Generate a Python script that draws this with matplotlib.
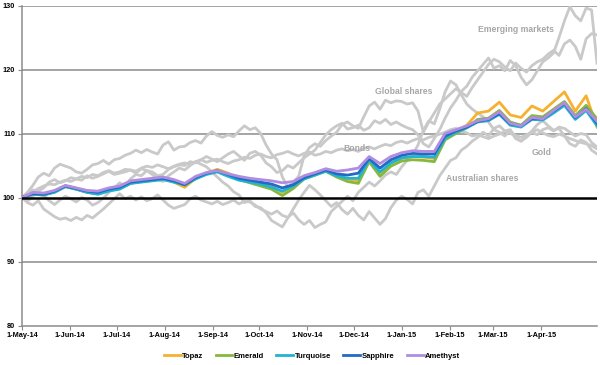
import matplotlib
matplotlib.use("Agg")
import matplotlib.pyplot as plt
import pandas as pd

plt.rcParams['font.family'] = ['Liberation Sans', 'DejaVu Sans']
plt.rcParams['font.weight'] = 'bold'

# weekly fund values (index, 1-May-14 = 100)
topaz = [100, 100.5, 100.4, 100.9, 101.8, 101.4, 100.9, 100.6, 101.2, 101.6,
         102.4, 102.6, 102.8, 103.0, 102.4, 101.6, 103.0, 103.8, 104.4, 103.8,
         103.0, 102.5, 102.1, 101.8, 100.8, 101.8, 103.0, 103.6, 104.3, 103.6,
         102.9, 102.6, 105.8, 103.6, 105.4, 106.1, 106.4, 106.3, 106.1, 109.2,
         110.3, 111.3, 113.2, 113.5, 114.9, 112.9, 112.5, 114.3, 113.5, 115.0,
         116.5, 113.5, 115.9, 111.0]
emerald = [100, 100.5, 100.4, 100.9, 101.7, 101.3, 100.8, 100.6, 101.1, 101.4,
           102.2, 102.5, 102.7, 102.9, 102.5, 101.9, 103.0, 103.7, 104.2, 103.5,
           102.8, 102.3, 101.8, 101.3, 100.3, 101.4, 102.9, 103.5, 104.1, 103.2,
           102.5, 102.2, 105.6, 103.3, 104.9, 105.7, 105.9, 105.8, 105.6, 109.0,
           110.0, 110.9, 112.2, 112.4, 113.6, 111.8, 111.3, 112.8, 112.6, 113.8,
           115.0, 112.8, 114.4, 112.3]
turquoise = [100, 100.5, 100.4, 100.8, 101.7, 101.3, 100.8, 100.5, 101.0, 101.3,
             102.2, 102.4, 102.6, 102.8, 102.4, 102.0, 102.9, 103.6, 104.0, 103.3,
             102.7, 102.4, 102.1, 101.6, 101.0, 101.8, 102.9, 103.5, 104.1, 103.4,
             103.0, 103.0, 105.9, 104.0, 105.4, 106.2, 106.4, 106.4, 106.3, 109.3,
             110.2, 110.9, 111.8, 112.0, 113.0, 111.3, 111.0, 112.2, 112.1, 113.2,
             114.4, 112.2, 113.6, 111.2]
sapphire = [100, 100.6, 100.5, 101.0, 101.8, 101.4, 101.0, 100.8, 101.3, 101.6,
            102.4, 102.6, 102.8, 103.0, 102.6, 102.0, 103.1, 103.8, 104.2, 103.6,
            103.0, 102.7, 102.4, 102.1, 101.5, 102.0, 103.1, 103.7, 104.3, 103.7,
            103.5, 103.8, 106.1, 104.6, 105.9, 106.6, 106.9, 106.8, 106.8, 109.6,
            110.4, 111.0, 111.9, 112.2, 113.1, 111.5, 111.2, 112.3, 112.3, 113.5,
            114.7, 112.5, 113.9, 111.6]
amethyst = [100, 100.8, 100.7, 101.1, 101.9, 101.5, 101.1, 101.0, 101.5, 101.8,
            102.6, 102.8, 103.0, 103.2, 102.8, 102.2, 103.3, 103.9, 104.2, 103.7,
            103.3, 103.0, 102.8, 102.6, 102.3, 102.5, 103.4, 103.9, 104.5, 104.1,
            104.3, 104.6, 106.4, 105.3, 106.4, 107.0, 107.3, 107.2, 107.2, 110.0,
            110.6, 111.2, 112.0, 112.3, 113.4, 111.6, 111.2, 112.5, 112.3, 113.6,
            114.8, 112.6, 113.8, 111.9]

# asset class indices, twice a week
emerging = [100, 99.4, 100.2, 101.0, 101.5, 102.4, 102.8, 102.3, 102.6, 103.1,
            102.9, 102.7, 103.4, 103.0, 103.3, 103.7, 104.1, 103.6, 103.8, 104.0,
            104.3, 103.8, 104.5, 104.2, 104.0, 103.4, 103.6, 104.4, 104.8, 105.1,
            105.0, 105.6, 105.4, 105.9, 106.4, 106.0, 105.6, 106.2, 106.8, 107.2,
            106.5, 105.8, 106.9, 107.2, 106.6, 105.4, 104.8, 103.9, 104.2, 105.0,
            104.6, 105.4, 106.2, 106.8, 107.4, 108.6, 109.8, 110.6, 111.2, 111.6,
            110.7, 110.9, 111.3, 110.5, 110.9, 112.0, 111.6, 112.2, 111.4, 111.8,
            111.3, 110.9, 110.6, 109.8, 108.4, 107.9, 109.2, 110.6, 112.4, 114.0,
            115.2, 116.6, 117.4, 118.8, 119.8, 120.8, 121.8, 120.2, 120.6, 119.8,
            121.4, 120.6, 118.8, 117.6, 118.4, 119.8, 121.2, 121.8, 122.6, 125.0,
            127.6, 129.8, 128.4, 127.6, 129.6, 129.3, 121.0]
global_sh = [100, 100.8, 101.9, 103.2, 103.8, 103.4, 104.6, 105.2, 104.9, 104.6,
             104.0, 103.8, 104.4, 105.1, 105.3, 105.8, 105.2, 105.9, 106.1, 106.6,
             106.9, 107.4, 107.0, 107.5, 107.1, 106.8, 108.2, 108.7, 107.4, 107.9,
             108.0, 108.6, 108.9, 108.5, 109.6, 110.3, 109.7, 109.4, 109.8, 109.5,
             110.4, 111.2, 110.6, 110.9, 110.0, 108.2, 106.8, 105.9, 103.2, 101.6,
             102.4, 103.3, 106.5, 107.8, 108.4, 108.0, 108.9, 109.6, 110.2, 111.4,
             111.8, 111.2, 110.8, 112.6, 114.3, 114.9, 113.8, 115.2, 114.8, 115.1,
             115.0, 114.6, 114.8, 113.5, 110.2, 111.8, 113.2, 114.6, 115.4, 116.2,
             117.0, 116.4, 115.8, 117.2, 118.4, 119.6, 120.8, 121.6, 121.2, 120.4,
             119.8, 121.0, 120.2, 119.6, 120.6, 121.2, 121.6, 122.4, 123.0, 122.2,
             124.0, 124.6, 123.6, 121.6, 124.8, 125.6, 125.4]
bonds = [100, 100.5, 100.9, 101.4, 101.8, 102.1, 102.0, 102.4, 102.7, 102.5,
         102.9, 103.3, 103.1, 103.6, 103.4, 103.9, 104.2, 103.8, 104.0, 104.4,
         104.3, 104.1, 104.6, 104.9, 104.7, 105.1, 104.8, 104.5, 104.9, 105.2,
         105.4, 105.1, 105.6, 105.9, 105.5, 105.8, 106.0, 105.6, 105.3, 105.7,
         105.9, 106.3, 106.1, 106.6, 106.8, 106.4, 106.2, 106.7, 106.9, 107.2,
         106.8, 106.5, 106.9, 107.1, 106.6, 106.8, 107.2, 107.0, 107.4, 107.6,
         107.3, 107.5, 107.2, 107.7, 107.9, 107.6, 108.0, 108.3, 108.1, 108.6,
         108.8, 108.5, 108.9, 109.2, 109.0, 109.4, 109.6, 109.9, 110.2, 110.6,
         110.8, 110.4, 110.1, 109.6, 109.8, 109.5, 109.2, 109.6, 109.9, 110.3,
         110.0, 109.7, 109.4, 109.8, 110.2, 110.6, 110.1, 109.7, 109.5, 109.9,
         109.6, 109.2, 108.9, 108.6, 108.4, 108.1, 107.6]
gold = [100, 99.2, 98.8, 99.5, 98.2, 97.6, 97.0, 96.6, 96.8, 96.4,
        96.9, 96.5, 97.2, 96.8, 97.5, 98.2, 99.0, 99.8, 100.6, 99.8,
        100.2, 99.6, 100.1, 99.5, 99.8, 100.4, 99.6, 98.8, 98.3, 98.6,
        98.9, 99.8, 100.2, 99.6, 99.3, 99.0, 99.4, 98.9, 99.2, 99.6,
        99.0, 99.4, 99.3, 98.8, 98.2, 97.8, 97.4, 97.9, 97.2, 96.9,
        97.6, 96.5, 95.8, 96.4, 95.3, 95.8, 96.2, 97.8, 98.6, 99.4,
        100.2, 99.5, 100.8, 101.6, 102.4, 101.8, 102.6, 103.5, 104.0, 103.6,
        104.8, 105.8, 106.6, 108.2, 110.5, 112.0, 111.5, 113.8, 116.5, 118.2,
        117.6, 116.0, 114.6, 113.8, 113.2, 112.6, 111.8, 110.6, 110.2, 109.6,
        110.5, 109.2, 108.8, 109.4, 110.2, 109.8, 110.6, 110.9, 110.4, 111.0,
        110.8, 110.2, 109.6, 110.0, 109.8, 108.6, 107.9]
aus_sh = [100, 100.6, 101.2, 100.8, 100.4, 99.5, 98.9, 99.6, 100.2, 99.8,
          99.3, 100.0, 99.6, 98.8, 99.2, 99.9, 100.8, 101.5, 102.3, 101.8,
          102.9, 103.6, 103.4, 104.2, 103.6, 102.8, 102.5, 103.4, 104.0, 104.6,
          104.3, 105.0, 105.6, 105.2, 104.8, 104.0, 103.2, 102.4, 101.8, 100.9,
          100.4, 99.2, 99.5, 98.6, 98.4, 97.6, 96.4, 95.9, 95.4, 96.8,
          98.2, 99.6, 100.8, 101.9, 101.2, 100.4, 99.5, 98.6, 99.2, 98.1,
          97.4, 98.3, 97.2, 96.5, 97.8, 96.8, 95.8, 96.7, 98.4, 99.6,
          100.2, 99.7, 99.0, 100.8, 101.2, 100.2, 101.8, 103.4, 104.6, 105.8,
          106.2, 107.4, 108.0, 108.8, 109.4, 110.2, 109.6, 110.8, 111.2, 110.4,
          110.6, 109.4, 108.8, 109.6, 110.4, 111.4, 112.0, 111.2, 110.5, 110.8,
          109.6, 108.4, 108.0, 109.0, 108.6, 107.4, 106.8]

fund_names = ['Topaz', 'Emerald', 'Turquoise', 'Sapphire', 'Amethyst']
fund_colors = ['#F6B12E', '#86B83D', '#1EB4D2', '#2469C4', '#B08DE0']
asset_names = ['Emerging markets', 'Global shares', 'Bonds', 'Gold', 'Australian shares']

month_labels = ['1-May-14', '1-Jun-14', '1-Jul-14', '1-Aug-14', '1-Sep-14', '1-Oct-14',
                '1-Nov-14', '1-Dec-14', '1-Jan-15', '1-Feb-15', '1-Mar-15', '1-Apr-15']

start = pd.Timestamp('2014-05-01')
weeks = pd.date_range(start, periods=len(topaz), freq='7D')
halfweeks = pd.date_range(start, periods=len(gold), freq='84h')
month_ticks = pd.date_range(start, periods=len(month_labels), freq='MS')

fig = plt.figure(figsize=(6, 3.65), dpi=100)
ax = fig.add_axes([22 / 600, 1 - 325.5 / 365, 575 / 600, 320 / 365])

for s in [emerging, global_sh, bonds, gold, aus_sh]:
    ax.plot(halfweeks, s, color='#C9C9C9', lw=2.0, solid_joinstyle='round', zorder=2)

for s, name, c in zip([topaz, emerald, turquoise, sapphire, amethyst], fund_names, fund_colors):
    ax.plot(weeks, s, color=c, lw=2.0, label=name, zorder=3)

ax.set_ylim(80, 130)
ax.set_xlim(start, start + pd.Timedelta(days=371))
ax.set_yticks([80, 90, 100, 110, 120, 130])
for v in [90, 110, 120, 130]:
    ax.axhline(v, color='#8C8C8C', lw=1.1, zorder=1)
ax.axhline(100, color='black', lw=1.8, zorder=4)

ax.set_xticks(month_ticks)
ax.set_xticklabels(month_labels)
ax.tick_params(axis='both', labelsize=5.3, color='#8C8C8C', length=3, width=0.8, pad=2)
for lab in ax.get_xticklabels() + ax.get_yticklabels():
    lab.set_fontweight('bold')

for side in ['top', 'right']:
    ax.spines[side].set_visible(False)
ax.spines['left'].set_color('#8C8C8C')
ax.spines['bottom'].set_color('#8C8C8C')
ax.spines['left'].set_linewidth(1.1)
ax.spines['bottom'].set_linewidth(1.1)

# series labels
label_pos = [(318.7, 126.3), (246.5, 116.5), (216, 107.7), (335.5, 107.1), (296.8, 102.9)]
for name, (d, v) in zip(asset_names, label_pos):
    ax.text(start + pd.Timedelta(days=d), v, name, color='#A6A6A6', fontsize=6.2,
            fontweight='bold', ha='center', va='center', zorder=5)

fig.legend(loc='lower center', bbox_to_anchor=(0.52, -0.005), ncol=5, frameon=False,
           prop={'size': 5.5, 'weight': 'bold'}, handlelength=2.2, handletextpad=0.2,
           columnspacing=1.6)

fig.savefig('out.png', dpi=100)
